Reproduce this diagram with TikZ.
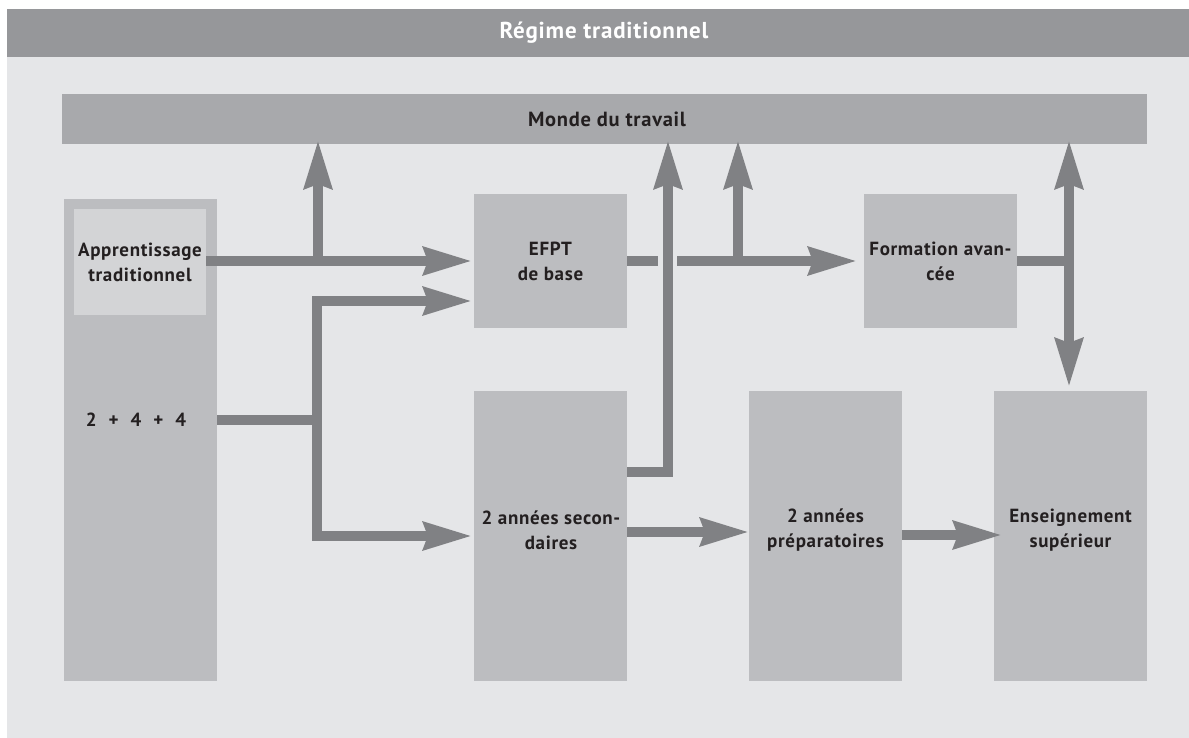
\documentclass[tikz,border=0pt]{standalone}
\usepackage{fontspec}
\setmainfont{PT Sans}[LetterSpace=3.5]
\usetikzlibrary{arrows.meta}
\definecolor{titlegray}{HTML}{96979A}
\definecolor{bggray}{HTML}{E5E6E8}
\definecolor{bargray}{HTML}{A8A9AC}
\definecolor{boxgray}{HTML}{BCBDC0}
\definecolor{innergray}{HTML}{D3D4D6}
\definecolor{arrowgray}{HTML}{808184}
\definecolor{txt}{HTML}{231F20}
\tikzset{
  panel/.style={fill=#1, draw=none, inner sep=0pt, outer sep=0pt},
  box/.style={panel=boxgray, minimum width=153pt, align=center, text=txt,
    font=\fontsize{19}{25}\selectfont\bfseries},
  lbl/.style={inner sep=0pt, text=txt, align=center, font=\fontsize{19}{25}\selectfont\bfseries},
  conn/.style={draw=arrowgray, line width=10pt, line join=miter, line cap=butt},
  tip/.style={conn, -{Stealth[length=48pt, width=27pt, inset=4pt]}},
  dtip/.style={conn, {Stealth[length=48pt, width=27pt, inset=4pt]}-{Stealth[length=48pt, width=27pt, inset=4pt]}},
}
\begin{document}
\begin{tikzpicture}[x=1pt, y=-1pt]
\useasboundingbox (0,0) rectangle (1189,738);
% backgrounds
\node[panel=titlegray, minimum width=1182pt, minimum height=48pt] (title) at (598,33) {};
\node[text=white, inner sep=0pt, font=\fontsize{23}{27}\selectfont\bfseries] (titletxt) at (604,33) {Régime traditionnel};
\node[panel=bggray, minimum width=1182pt, minimum height=681pt] (bg) at (598,397.5) {};
\node[panel=bargray, minimum width=1085pt, minimum height=50pt] (monde) at (604.5,119) {};
\node[lbl, font=\fontsize{20.5}{25}\selectfont\bfseries] (mondetxt) at (607,119) {Monde du travail};
% left column
\node[box, minimum height=482pt] (left) at (140.5,440) {};
\node[panel=innergray, minimum width=132pt, minimum height=106pt, align=center, text=txt,
  font=\fontsize{19}{25}\selectfont\bfseries] (app) at (140,262) {Apprentissage\\traditionnel};
\node[lbl] (n244) at (136,420) {2\hspace{12pt}+\hspace{12pt}4\hspace{12pt}+\hspace{12pt}4};
% upper boxes
\node[box, minimum height=134pt] (efpt) at (550.5,261) {EFPT\\de base};
\node[box, minimum height=134pt] (form) at (940.5,261) {Formation avan-\\cée};
% lower boxes
\node[box, minimum height=290pt] (sec) at (550.5,536) {};
\node[lbl] at (551,530) {2 années secon-\\daires};
\node[box, minimum height=290pt] (prep) at (825.5,536) {};
\node[lbl] at (825.5,530) {2 années\\préparatoires};
\node[box, minimum height=290pt] (sup) at (1070.5,536) {};
\node[lbl] at (1070.5,530) {Enseignement\\supérieur};
% junction coordinates
\coordinate (j1) at (318,261);
\coordinate (j2) at (317,420);
\coordinate (j3) at (738,261);
\coordinate (j4) at (668,472);
\coordinate (j5) at (1069,261);
\coordinate (gapA) at (658,261);
\coordinate (gapB) at (677,261);
% connectors
\draw[tip] (app.east |- j1) -- ([xshift=-2pt]efpt.west |- j1);
\draw[tip] (j1) -- ([yshift=4pt]monde.south -| j1);
\draw[conn] (left.east |- j2) -- (j2);
\draw[dtip] ([xshift=-2pt]efpt.west |- 0,301) -- (317,301) -- (317,536) -- ([xshift=-2pt]sec.west |- 0,536);
\draw[conn] (efpt.east |- j3) -- (gapA);
\draw[tip] (gapB) -- ([xshift=-7pt]form.west |- j3);
\draw[tip] (j3) -- ([yshift=4pt]monde.south -| j3);
\draw[tip] (sec.east |- j4) -- (j4) -- ([yshift=4pt]monde.south -| j4);
\draw[tip] (sec.east |- 0,532) -- (prep.west |- 0,532);
\draw[tip] (prep.east |- 0,535) -- ([xshift=8pt]sup.west |- 0,535);
\draw[conn] (form.east |- j5) -- ([xshift=5pt]j5);
\draw[dtip] ([yshift=4pt]monde.south -| j5) -- ([yshift=4pt]sup.north -| j5);
\end{tikzpicture}
\end{document}
